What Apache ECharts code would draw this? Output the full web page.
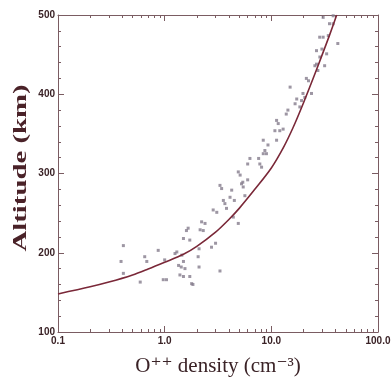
<!DOCTYPE html>
<html>
<head>
<meta charset="utf-8">
<script src="https://cdn.jsdelivr.net/npm/echarts@6/dist/echarts.min.js"></script>
<style>
  html, body { margin: 0; padding: 0; background: #fff; }
  #chart { width: 392px; height: 378px; }
</style>
</head>
<body>
<div id="chart"></div>
<script>
// model curve (density cm^-3, altitude km)
var curveX = [0.1, 0.2, 0.3, 0.5, 0.7, 1.0, 1.5, 2.0, 3.0, 4.0, 5.0, 7.0, 10.0, 13.0, 16.0, 20.0, 25.0, 30.0, 35.0, 41.0];
var curveY = [148, 157, 163, 172, 179.5, 188, 198, 208, 226, 242, 256, 280, 307, 333, 358, 389, 422, 450, 474, 500];

// measured points
var obsX = [0.41, 0.39, 0.41, 0.59, 0.65, 0.68, 0.87, 0.97, 1.04, 1.0, 1.25, 1.3, 1.35, 1.45, 1.5, 1.55, 1.39, 1.5, 1.6, 1.66,
            1.72, 1.72, 1.79, 1.84, 1.43, 1.5, 2.1, 2.06, 2.1, 2.15, 2.22, 2.39, 2.3, 2.75, 3.0, 3.3, 2.85, 3.08, 3.3, 3.42,
            3.55, 3.67, 3.8, 4.1, 4.25, 4.4, 4.5, 4.9, 4.9, 5.1, 5.25, 5.45, 5.65, 5.4, 6.0, 6.0, 6.3, 7.8, 8.1, 8.4,
            7.6, 9.0, 9.3, 8.4, 8.7, 10.8, 11.2, 11.6, 12.9, 11.2, 12.0, 13.8, 14.3, 15.0, 16.7, 17.3, 18.5, 19.2, 19.8, 20.6,
            23.8, 21.3, 22.3, 25.6, 26.5, 27.3, 31.6, 28.5, 29.8, 26.5, 33.0, 28.4, 30.6, 34.2, 42.0, 35.1, 38.0, 30.6, 38.0];
var obsY = [209, 189, 174, 163, 195, 189, 203, 166, 166, 191, 199, 201, 184, 197, 218, 180, 172, 170, 228, 231,
            216, 170, 161, 160, 182, 189, 205, 195, 182, 229, 239, 237, 228, 207, 212, 177, 254, 251, 285, 281,
            266, 262, 256, 270, 279, 245, 266, 237, 302, 298, 287, 283, 272, 289, 292, 312, 319, 312, 308, 325,
            319, 325, 336, 342, 329, 354, 367, 363, 356, 342, 354, 375, 380, 409, 388, 394, 384, 392, 401, 396,
            401, 420, 417, 436, 438, 430, 436, 447, 457, 455, 451, 472, 472, 474, 464, 489, 489, 497, 499];

var xMinor = [0.2, 0.3, 0.4, 0.5, 0.6, 0.7, 0.8, 0.9, 2, 3, 4, 5, 6, 7, 8, 9, 20, 30, 40, 50, 60, 70, 80, 90];

var frame = '#7a5c62';
var ink = '#3a2226';

var curve = curveX.map(function (x, i) { return [x, curveY[i]]; });
var obs = obsX.map(function (x, i) { return [x, obsY[i]]; });

function logAxis(pos, showLabel) {
    return {
        type: 'log', logBase: 10, min: 0.1, max: 100, position: pos, splitNumber: 3,
        axisLine: { show: true, onZero: false, lineStyle: { color: frame, width: 1 } },
        axisTick: { show: true, inside: true, length: 6, lineStyle: { color: frame } },
        axisLabel: {
            show: showLabel, color: ink, fontFamily: 'Liberation Sans',
            fontWeight: 'bold', fontSize: 10, margin: 4,
            formatter: function (v) { return Number(v).toFixed(1); }
        },
        splitLine: { show: false }
    };
}

// minor ticks of the log axis, placed on the exponent scale
function minorAxis(pos) {
    return {
        type: 'value', min: -1, max: 2, position: pos,
        axisLine: { show: false, onZero: false },
        axisTick: {
            show: true, inside: true, length: 3, lineStyle: { color: frame },
            customValues: xMinor.map(function (v) { return Math.log10(v); })
        },
        axisLabel: { show: false },
        splitLine: { show: false }
    };
}

function valAxis(pos, showLabel) {
    return {
        type: 'value', min: 100, max: 500, interval: 100, position: pos,
        axisLine: { show: true, onZero: false, lineStyle: { color: frame, width: 1 } },
        axisTick: { show: true, inside: true, length: 6, lineStyle: { color: frame } },
        minorTick: { show: true, splitNumber: 5, length: 3, lineStyle: { color: frame } },
        axisLabel: {
            show: showLabel, color: ink, fontFamily: 'Liberation Sans', fontWeight: 'bold',
            fontSize: 10, margin: 3
        },
        splitLine: { show: false }
    };
}

var chart = echarts.init(document.getElementById('chart'));
var xMain = logAxis('bottom', true);
xMain.name = 'O\u207A\u207A density (cm\u207B\u00B3)';
xMain.nameLocation = 'middle';
xMain.nameGap = 24;
xMain.nameTextStyle = { fontFamily: 'Liberation Serif, DejaVu Serif', fontSize: 21, color: ink };

chart.setOption({
    backgroundColor: '#fff',
    animation: false,
    grid: { left: 58, right: 14, top: 15, bottom: 46, outerBoundsMode: 'none' },
    xAxis: [xMain, minorAxis('bottom'), logAxis('top', false), minorAxis('top')],
    yAxis: [valAxis('left', true), valAxis('right', false)],
    graphic: [{
        type: 'text', x: 21, y: 168, rotation: Math.PI / 2, scaleX: 1.6,
        style: {
            text: 'Altitude (km)', font: 'bold 18px "Liberation Serif"', fill: '#4a2228',
            align: 'center', verticalAlign: 'middle'
        }
    }],
    series: [
        {
            type: 'scatter', xAxisIndex: 0, yAxisIndex: 0, data: obs,
            symbol: 'rect', symbolSize: 3,
            itemStyle: { color: '#857c8c', opacity: 0.8 }
        },
        {
            type: 'line', xAxisIndex: 0, yAxisIndex: 0, data: curve,
            smooth: 0.3, showSymbol: false,
            lineStyle: { color: '#7a2838', width: 1.6 }
        }
    ]
});
</script>
</body>
</html>
